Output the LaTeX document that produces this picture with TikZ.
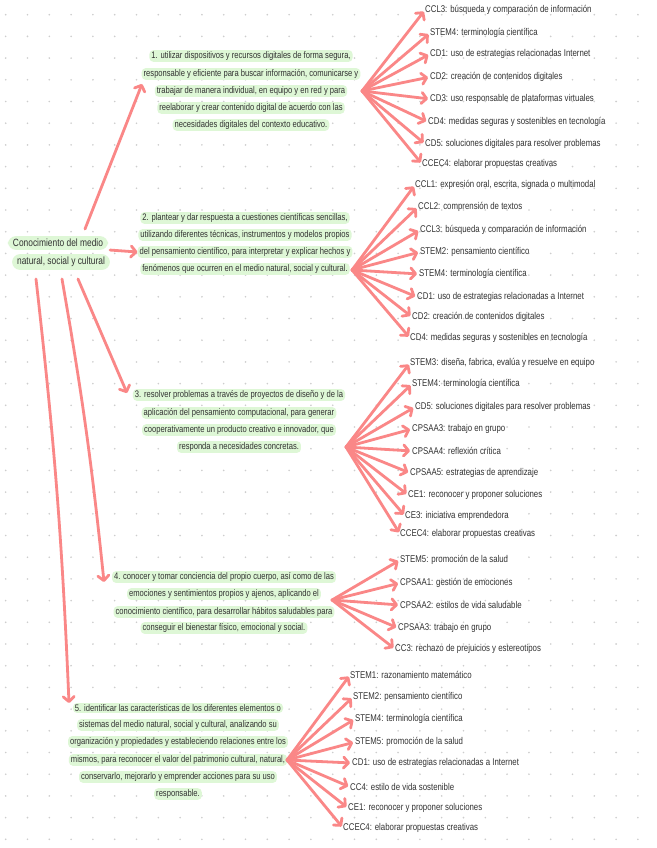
\documentclass[tikz,border=0pt]{standalone}
\usepackage{fontspec}
\setmainfont{Liberation Sans}[FakeStretch=0.8]
\usetikzlibrary{arrows.meta}
\definecolor{arr}{RGB}{250,135,135}
\definecolor{hlg}{RGB}{222,247,214}
\definecolor{txt}{RGB}{50,50,50}
\definecolor{dotc}{RGB}{205,205,205}
\tikzset{
  lbl/.style={anchor=west, inner sep=0pt, text=txt, font=\fontsize{9.8}{11}\selectfont},
  hl/.style={fill=hlg, rounded corners=4pt, inner xsep=2pt, inner ysep=1.4pt, text=txt, font=\fontsize{9.5}{11}\selectfont},
  rootbox/.style={fill=hlg, rounded corners=8pt, inner xsep=5pt, inner ysep=3pt, text=txt, font=\fontsize{10.5}{12}\selectfont},
  con/.style={draw=arr, line width=2.8pt, line cap=round, line join=round, -{Straight Barb[length=5pt,width=11pt,round]}},
}
\begin{document}
\begin{tikzpicture}[x=1pt,y=-1pt]
\useasboundingbox (0,0) rectangle (656,848);
\fill[white] (0,0) rectangle (656,848);
% dot grid
\foreach \i in {0,...,30} {
  \foreach \j in {0,...,39} {
    \fill[dotc] ({5.7+21.8*\i},{14.7+21.7*\j}) circle (0.9pt);
  }
}
% root
\node[rootbox] (r1) at (58,243) {Conocimiento del medio};
\node[rootbox] (r2) at (61,262) {natural, social y cultural};

% node 1
\foreach \yy/\txt [count=\i] in {
  56/{1. utilizar dispositivos y recursos digitales de forma segura,},
  74/{responsable y eficiente para buscar información, comunicarse y},
  91/{trabajar de manera individual, en equipo y en red y para},
  108/{reelaborar y crear contenido digital de acuerdo con las},
  125/{necesidades digitales del contexto educativo.}} {
  \node[hl] (n1-\i) at (251,\yy) {\txt};
}
% node 2
\foreach \yy/\txt [count=\i] in {
  218/{2. plantear y dar respuesta a cuestiones científicas sencillas,},
  235/{utilizando diferentes técnicas, instrumentos y modelos propios},
  252/{del pensamiento científico, para interpretar y explicar hechos y},
  269/{fenómenos que ocurren en el medio natural, social y cultural.}} {
  \node[hl] (n2-\i) at (245,\yy) {\txt};
}
% node 3
\foreach \yy/\txt [count=\i] in {
  395/{3. resolver problemas a través de proyectos de diseño y de la},
  413/{aplicación del pensamiento computacional, para generar},
  430/{cooperativamente un producto creativo e innovador, que},
  447/{responda a necesidades concretas.}} {
  \node[hl] (n3-\i) at (239,\yy) {\txt};
}
% node 4
\foreach \yy/\txt [count=\i] in {
  577/{4. conocer y tomar conciencia del propio cuerpo, así como de las},
  594/{emociones y sentimientos propios y ajenos, aplicando el},
  612/{conocimiento científico, para desarrollar hábitos saludables para},
  628/{conseguir el bienestar físico, emocional y social.}} {
  \node[hl] (n4-\i) at (224,\yy) {\txt};
}
% node 5
\foreach \yy/\txt [count=\i] in {
  708/{5. identificar las características de los diferentes elementos o},
  725/{sistemas del medio natural, social y cultural, analizando su},
  742/{organización y propiedades y estableciendo relaciones entre los},
  760/{mismos, para reconocer el valor del patrimonio cultural, natural,},
  777/{conservarlo, mejorarlo y emprender acciones para su uso},
  794/{responsable.}} {
  \node[hl] (n5-\i) at (178,\yy) {\txt};
}

% root connectors
\coordinate (s1) at (85,229);
\coordinate (t1) at (142,84);
\coordinate (s3) at (78,279);
\coordinate (t3) at (127,393);
\coordinate (s4) at (62,279);
\coordinate (t4) at (104,582);
\coordinate (s5) at (36,279);
\coordinate (t5) at (69,703);
\draw[con] (s1) -- (t1);
\draw[con] (r2.east |- r1.south) -- (n2-3.west);
\draw[con] (s3) -- (t3);
\draw[con] (s4) to[bend left=2] (t4);
\draw[con] (s5) to[bend left=2] (t5);

% hubs
\coordinate (h1) at (362,91);
\coordinate (h2) at (352,270);
\coordinate (h3) at (346,447);
\coordinate (h4) at (332,600);
\coordinate (h5) at (287,760);

% group 1
\foreach \xx/\yy/\txt [count=\i] in {
  425/10/{CCL3: búsqueda y comparación de información},
  430/33/{STEM4: terminología científica},
  430/54/{CD1: uso de estrategias relacionadas Internet},
  430/77/{CD2: creación de contenidos digitales},
  430/99/{CD3: uso responsable de plataformas virtuales},
  428/122/{CD4: medidas seguras y sostenibles en tecnología},
  425/144/{CD5: soluciones digitales para resolver problemas},
  422/164/{CCEC4: elaborar propuestas creativas}} {
  \node[lbl] (c1-\i) at (\xx,\yy) {\txt};
  \draw[con, shorten >=2pt] (h1) -- (c1-\i.west);
}
% group 2
\foreach \xx/\yy/\txt [count=\i] in {
  415/185/{CCL1: expresión oral, escrita, signada o multimodal},
  418/207/{CCL2: comprensión de textos},
  420/230/{CCL3: búsqueda y comparación de información},
  420/252/{STEM2: pensamiento científico},
  419/274/{STEM4: terminología científica},
  417/297/{CD1: uso de estrategias relacionadas a Internet},
  412/317/{CD2: creación de contenidos digitales},
  410/338/{CD4: medidas seguras y sostenibles en tecnología}} {
  \node[lbl] (c2-\i) at (\xx,\yy) {\txt};
  \draw[con, shorten >=2pt] (h2) -- (c2-\i.west);
}
% group 3
\foreach \xx/\yy/\txt [count=\i] in {
  410/363/{STEM3: diseña, fabrica, evalúa y resuelve en equipo},
  412/384/{STEM4: terminología científica},
  415/407/{CD5: soluciones digitales para resolver problemas},
  412/429/{CPSAA3: trabajo en grupo},
  412/451/{CPSAA4: reflexión crítica},
  410/473/{CPSAA5: estrategias de aprendizaje},
  408/495/{CE1: reconocer y proponer soluciones},
  405/516/{CE3: iniciativa emprendedora},
  400/534/{CCEC4: elaborar propuestas creativas}} {
  \node[lbl] (c3-\i) at (\xx,\yy) {\txt};
  \draw[con, shorten >=2pt] (h3) -- (c3-\i.west);
}
% group 4
\foreach \xx/\yy/\txt [count=\i] in {
  400/560/{STEM5: promoción de la salud},
  400/583/{CPSAA1: gestión de emociones},
  400/605/{CPSAA2: estilos de vida saludable},
  398/628/{CPSAA3: trabajo en grupo},
  395/649/{CC3: rechazo de prejuicios y estereotipos}} {
  \node[lbl] (c4-\i) at (\xx,\yy) {\txt};
  \draw[con, shorten >=2pt] (h4) -- (c4-\i.west);
}
% group 5
\foreach \xx/\yy/\txt [count=\i] in {
  350/675/{STEM1: razonamiento matemático},
  353/697/{STEM2: pensamiento científico},
  355/719/{STEM4: terminología científica},
  355/742/{STEM5: promoción de la salud},
  352/763/{CD1: uso de estrategias relacionadas a Internet},
  350/787/{CC4: estilo de vida sostenible},
  348/808/{CE1: reconocer y proponer soluciones},
  343/828/{CCEC4: elaborar propuestas creativas}} {
  \node[lbl] (c5-\i) at (\xx,\yy) {\txt};
  \draw[con, shorten >=2pt] (h5) -- (c5-\i.west);
}
\end{tikzpicture}
\end{document}
